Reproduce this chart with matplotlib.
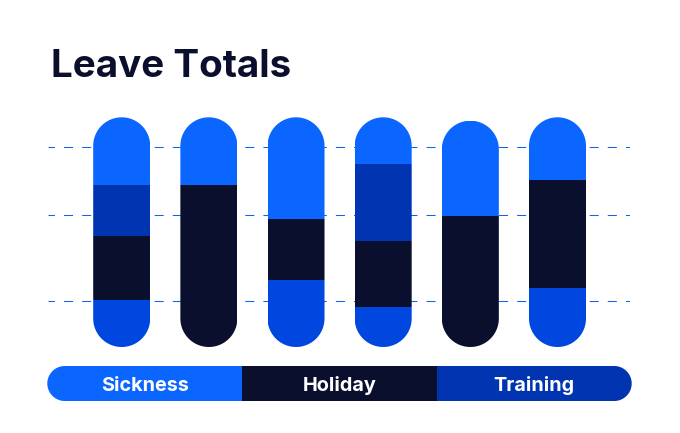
import numpy as np
import matplotlib
matplotlib.use("Agg")
import matplotlib.pyplot as plt
from matplotlib.patches import Polygon

# data (arbitrary units)
bars = ["1", "2", "3", "4", "5", "6"]
other = [47.0, 0.0, 67.0, 40.0, 0.0, 59.3]
holiday = [64.0, 162.0, 61.0, 66.0, 131.0, 107.7]
training = [51.0, 0.0, 0.0, 77.0, 0.0, 0.0]
sickness = [67.7, 67.7, 101.7, 46.7, 95.3, 62.7]
grid_vals = [45.7, 131.7, 199.7]
legend_names = ["Sickness", "Holiday", "Training"]

# colours
c_sick = "#0a66ff"
c_hol = "#0b0f2e"
c_train = "#0034b0"
c_other = "#0047df"
c_grid = "#1262f2"

W, H = 680, 433
fig = plt.figure(figsize=(W / 100, H / 100), dpi=100)

def vert_pill(cx, y0, y1, rx, ry, n=60):
    t = np.linspace(0, np.pi, n)
    xt = cx + rx * np.cos(t)
    yt = y1 - ry + ry * np.sin(t)
    t2 = np.linspace(np.pi, 2 * np.pi, n)
    xb = cx + rx * np.cos(t2)
    yb = y0 + ry + ry * np.sin(t2)
    return np.column_stack([np.r_[xt, xb], np.r_[yt, yb]])

def horiz_pill(x0, x1, y0, y1, rx, ry, n=60):
    cy = (y0 + y1) / 2
    t = np.linspace(-np.pi / 2, np.pi / 2, n)
    xr = x1 - rx + rx * np.cos(t)
    yr = cy + ry * np.sin(t)
    t2 = np.linspace(np.pi / 2, 3 * np.pi / 2, n)
    xl = x0 + rx + rx * np.cos(t2)
    yl = cy + ry * np.sin(t2)
    return np.column_stack([np.r_[xr, xl], np.r_[yr, yl]])

# bar area
ax_l, ax_r, ax_t, ax_b = 48, 630, 117.3, 347
ax = fig.add_axes([ax_l / W, 1 - ax_b / H, (ax_r - ax_l) / W, (ax_b - ax_t) / H])
x = np.arange(len(bars))
spacing = 87.16
xmin = -(121.7 - ax_l) / spacing
xmax = xmin + (ax_r - ax_l) / spacing
ymax = 229.7
ax.set_xlim(xmin, xmax)
ax.set_ylim(0, ymax)
ax.set_axis_off()

# 1px dashed guide lines
for g in grid_vals:
    ax.axhline(g, color=c_grid, lw=0.75, linestyle=(2.5, (8.7, 8.7)), zorder=0)

width = 57 / spacing
px_x = spacing
px_y = (ax_b - ax_t) / ymax
rx = width / 2
ry = rx * px_x / px_y

series = [(other, c_other), (holiday, c_hol), (training, c_train), (sickness, c_sick)]
totals = np.sum([s for s, _ in series], axis=0)
clips = [Polygon(vert_pill(xi, 0, totals[i], rx, ry), closed=True,
                 transform=ax.transData) for i, xi in enumerate(x)]

bottom = np.zeros(len(bars))
for vals, col in series:
    rects = ax.bar(x, vals, width, bottom=bottom, color=col, linewidth=0, zorder=2)
    for i, r in enumerate(rects):
        r.set_clip_path(clips[i])
    bottom += np.array(vals)

# title
fig.text(51 / W, 1 - 76.7 / H, "Leave Totals", fontsize=27.8, fontweight="bold",
         family="Inter", color=c_hol, va="baseline", ha="left")

# legend bar
lg_l, lg_r, lg_t, lg_b = 47.3, 631.7, 366, 401
lax = fig.add_axes([lg_l / W, 1 - lg_b / H, (lg_r - lg_l) / W, (lg_b - lg_t) / H])
lax.set_xlim(0, 3)
lax.set_ylim(0, 1)
lax.set_axis_off()
lcols = [c_sick, c_hol, c_train]
lrects = lax.barh(0.5, 1, left=np.arange(3), height=1, color=lcols, linewidth=0)
lpx_x = (lg_r - lg_l) / 3
lpx_y = lg_b - lg_t
lry = 0.5
lrx = lry * lpx_y / lpx_x
lclip = Polygon(horiz_pill(0, 3, 0, 1, lrx, lry), closed=True, transform=lax.transData)
for r in lrects:
    r.set_clip_path(lclip)
for i, name in enumerate(legend_names):
    lax.text(i + 0.5, (lg_b - 391.2) / lpx_y, name, color="white",
             fontsize=14.3, fontweight="bold", family="Inter",
             ha="center", va="baseline")

fig.savefig("out.png", dpi=100)
